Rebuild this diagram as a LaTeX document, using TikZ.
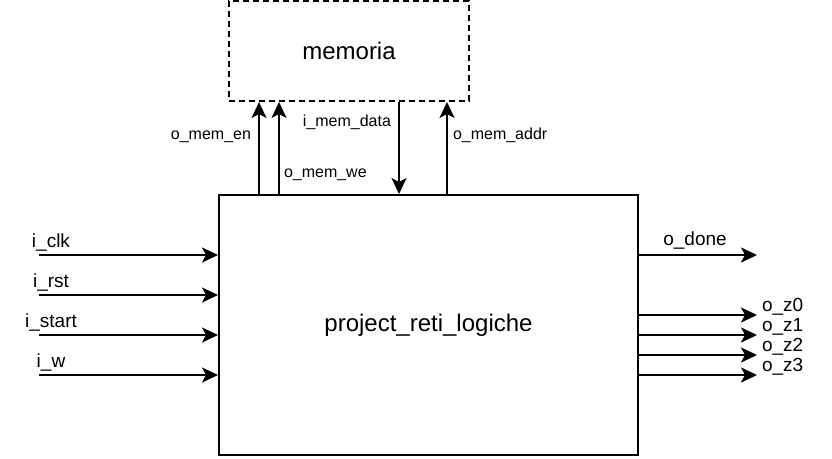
\documentclass[tikz,border=0pt]{standalone}
\usepackage{fontspec}
\setmainfont{Liberation Sans}
\usetikzlibrary{arrows.meta}

\begin{document}
\begin{tikzpicture}[x=1pt, y=-1pt, line width=2pt,
    sig/.style={-{Stealth[length=16pt, width=15pt, inset=4pt]}},
    big/.style={font=\fontsize{24}{28}\selectfont},
    lbl/.style={inner sep=0pt, font=\fontsize{19}{22}\selectfont},
    small/.style={inner sep=0pt, font=\fontsize{16}{19}\selectfont}]
				\useasboundingbox (0,0) rectangle (832,458);
				\node[draw, big, minimum width=419pt, minimum height=260pt] (main) at (428.5,325) {project\_reti\_logiche};
				\node[draw, big, dash pattern=on 6pt off 4pt, minimum width=240pt, minimum height=100pt] (mem) at (349,51) {memoria};
				% ingressi
				\coordinate (clk) at (39,255);
				\coordinate (rst) at (39,295);
				\coordinate (start) at (39,335);
				\coordinate (w) at (39,375);
				\node[lbl, anchor=base] (lclk) at (51,247) {i\_clk};
				\node[lbl, anchor=base] (lrst) at (51,287) {i\_rst};
				\node[lbl, anchor=base] (lstart) at (51,327) {i\_start};
				\node[lbl, anchor=base] (lw) at (51,367) {i\_w};
				\draw[sig] (clk) -- (clk -| main.west);
				\draw[sig] (rst) -- (rst -| main.west);
				\draw[sig] (start) -- (start -| main.west);
				\draw[sig] (w) -- (w -| main.west);
				% uscite
				\coordinate (done) at (757,255);
				\coordinate (z0) at (757,315);
				\coordinate (z1) at (757,335);
				\coordinate (z2) at (757,355);
				\coordinate (z3) at (757,375);
				\node[lbl, anchor=base] (ldone) at (695,245) {o\_done};
				\node[lbl, anchor=base west] (lz0) at (761,311) {o\_z0};
				\node[lbl, anchor=base west] (lz1) at (761,331) {o\_z1};
				\node[lbl, anchor=base west] (lz2) at (761,351) {o\_z2};
				\node[lbl, anchor=base west] (lz3) at (761,371) {o\_z3};
				\draw[sig] (main.east |- done) -- (done);
				\draw[sig] (main.east |- z0) -- (z0);
				\draw[sig] (main.east |- z1) -- (z1);
				\draw[sig] (main.east |- z2) -- (z2);
				\draw[sig] (main.east |- z3) -- (z3);
				% memoria
				\node[small, anchor=base east] (len) at (252,139) {o\_mem\_en};
				\node[small, anchor=base west] (lwe) at (283,177) {o\_mem\_we};
				\node[small, anchor=base east] (ldata) at (392,126) {i\_mem\_data};
				\node[small, anchor=base west] (laddr) at (452,139) {o\_mem\_addr};
				\draw[sig] (main.north -| 259,0) -- (mem.south -| 259,0);
				\draw[sig] (main.north -| 279,0) -- (mem.south -| 279,0);
				\draw[sig] (mem.south -| 399,0) -- (main.north -| 399,0);
				\draw[sig] (main.north -| 447,0) -- (mem.south -| 447,0);
			\end{tikzpicture}
\end{document}
